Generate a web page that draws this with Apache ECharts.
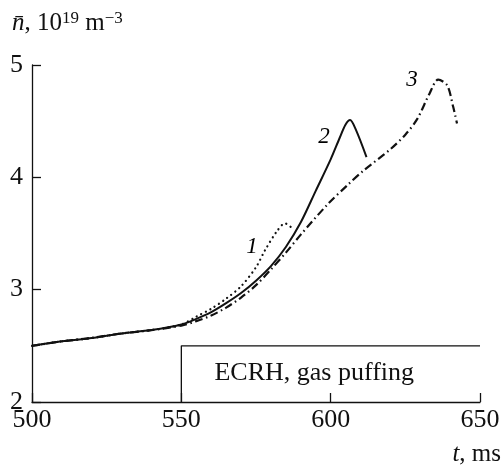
<!DOCTYPE html>
<html><head><meta charset="utf-8">
<script src="https://cdn.jsdelivr.net/npm/echarts@6/dist/echarts.min.js"></script>
<style>html,body{margin:0;padding:0;background:#fff}#c{width:504px;height:469px}</style>
</head><body><div id="c"></div>
<script>
var xTicks = [500, 550, 600, 650];
var yTicks = [2, 3, 4, 5];
var curve1 = [[500,2.50],[510,2.54],[520,2.57],[530,2.61],[540,2.64],[550,2.69],[555,2.76],[560,2.83],[565,2.92],[570,3.03],[575,3.20],[578,3.35],[582,3.52],[584.7,3.59],[587,3.55]];
var curve2 = [[500,2.50],[510,2.54],[520,2.57],[530,2.61],[540,2.64],[550,2.69],[555,2.74],[560,2.80],[565,2.88],[570,2.97],[575,3.08],[580,3.21],[585,3.38],[590,3.60],[595,3.88],[600,4.16],[603,4.35],[605,4.47],[606.5,4.51],[608.5,4.42],[612,4.18]];
var curve3 = [[500,2.50],[510,2.54],[520,2.57],[530,2.61],[540,2.64],[550,2.68],[555,2.72],[560,2.77],[565,2.84],[570,2.93],[575,3.04],[580,3.18],[585,3.33],[590,3.49],[599,3.76],[606,3.94],[611,4.06],[620,4.25],[625,4.38],[629,4.52],[633,4.74],[636,4.87],[639,4.82],[641,4.63],[642.3,4.48]];
var heatingBox = [[550,2],[550,2.5],[650,2.5]];
var curveLabels = [{name:'1', value:[573.7,3.38]}, {name:'2', value:[597.8,4.36]}, {name:'3', value:[627.2,4.87]}];
var boxLabel = {name:'ECRH, gas puffing', value:[594.5,2.26]};

var FONT = '"Liberation Serif", "Times New Roman", serif';
var INK = '#111';
var chart = echarts.init(document.getElementById('c'));
chart.setOption({
  animation:false,
  title:{
    text:'{i|n\u0304}{r|, 10}{s|19}{r| m}{s|\u22123}',
    left:7, top:5,
    textStyle:{fontWeight:'normal', rich:{
      i:{fontFamily:FONT, fontStyle:'italic', fontWeight:'normal', fontSize:25, color:INK},
      r:{fontFamily:FONT, fontWeight:'normal', fontSize:25, color:INK},
      s:{fontFamily:FONT, fontWeight:'normal', fontSize:17, color:INK, verticalAlign:'top', padding:[0,0,9,0]}
    }}
  },
  graphic:[{
    type:'text', right:3, top:442,
    style:{text:'{i|t}{r|, ms}', rich:{
      i:{fontFamily:FONT, fontStyle:'italic', fontSize:25, fill:INK},
      r:{fontFamily:FONT, fontSize:25, fill:INK}
    }}
  }],
  grid:{left:32, top:65, width:448, height:337, containLabel:false},
  xAxis:{type:'value', min:xTicks[0], max:xTicks[xTicks.length-1], interval:50,
    axisLine:{lineStyle:{color:INK, width:1.3}},
    axisTick:{inside:true, length:9, lineStyle:{color:INK, width:1.3}},
    axisLabel:{fontFamily:FONT, fontSize:26, color:INK, margin:5},
    splitLine:{show:false}},
  yAxis:{type:'value', min:yTicks[0], max:yTicks[yTicks.length-1], interval:1,
    axisLine:{show:true, lineStyle:{color:INK, width:1.3}},
    axisTick:{show:true, inside:true, length:9, lineStyle:{color:INK, width:1.3}},
    axisLabel:{fontFamily:FONT, fontSize:26, color:INK, margin:9},
    splitLine:{show:false}},
  series:[
    {type:'line', data:curve1, symbol:'none', smooth:0.3, lineStyle:{color:INK, width:2.2, type:[0.1,5], cap:'round'}},
    {type:'line', data:curve2, symbol:'none', smooth:0.3, lineStyle:{color:INK, width:2}},
    {type:'line', data:curve3, symbol:'none', smooth:0.3, lineStyle:{color:INK, width:2.2, type:[8,3.5,1.5,3.5]}},
    {type:'line', data:heatingBox, symbol:'none', lineStyle:{color:INK, width:1.3}},
    {type:'scatter', data:curveLabels, symbolSize:0, itemStyle:{opacity:1}, label:{show:true, position:'inside', formatter:'{b}', fontFamily:FONT, fontStyle:'italic', fontSize:23, color:'#000', textBorderWidth:0, opacity:1}},
    {type:'scatter', data:[boxLabel], symbolSize:0, itemStyle:{opacity:1}, label:{show:true, position:'inside', formatter:'{b}', fontFamily:FONT, fontSize:26, color:INK, textBorderWidth:0, opacity:1}}
  ]
});
</script></body></html>
